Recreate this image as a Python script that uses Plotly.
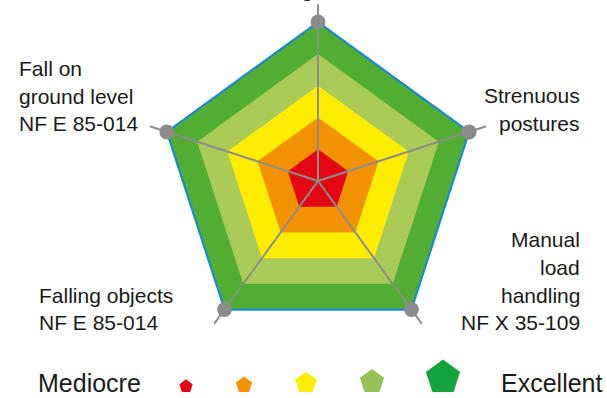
import plotly.graph_objects as go

# axes of the radar, clockwise from the top
categories = ["Walking surfaces", "Strenuous postures", "Manual load handling",
              "Falling objects", "Fall on ground level"]
levels = [5, 4, 3, 2, 1]
level_colors = ["#51AE32", "#AACB57", "#FFEC00", "#F39200", "#E30613"]
score = [5, 5, 5, 5, 5]
r_max = 5.57

# legend row
legend_colors = ["#E30613", "#F39200", "#FFED00", "#95C356", "#16A23A"]
legend_sizes = [14, 17, 22.5, 25.5, 36]
legend_x = [186, 244, 306, 372, 443]

W, H = 607, 398
cx, cy, rad = 318, 181, 177

fig = go.Figure()

# concentric bands, outer first
theta_loop = categories + categories[:1]
for lvl, col in zip(levels, level_colors):
    outer = lvl == max(levels)
    fig.add_trace(go.Scatterpolar(
        r=[lvl] * len(theta_loop),
        theta=theta_loop,
        mode="lines",
        fill="toself",
        fillcolor=col,
        line=dict(color="#1A8BD0" if outer else col, width=2.2 if outer else 0),
        hoverinfo="skip",
    ))

# spokes
for cat in categories:
    fig.add_trace(go.Scatterpolar(
        r=[0, r_max], theta=[cat, cat], mode="lines",
        line=dict(color="#8C8C8C", width=2), hoverinfo="skip",
    ))

# dots at the vertices
fig.add_trace(go.Scatterpolar(
    r=score, theta=categories, mode="markers",
    marker=dict(color="#8C8C8C", size=15),
))

# legend pentagons (bottom aligned)
fig.add_trace(go.Scatter(
    x=legend_x,
    y=[392 - 0.809 * s / 2 for s in legend_sizes],
    mode="markers",
    marker=dict(symbol="pentagon", size=legend_sizes, color=legend_colors,
                opacity=1, line=dict(width=0)),
    xaxis="x", yaxis="y", hoverinfo="skip",
))

fig.update_layout(
    width=W, height=H,
    margin=dict(l=0, r=0, t=0, b=0),
    paper_bgcolor="white",
    plot_bgcolor="rgba(0,0,0,0)",
    showlegend=False,
    font=dict(family="Liberation Sans, Arial, sans-serif", color="#1A1A1A"),
    polar=dict(
        domain=dict(x=[(cx - rad) / W, (cx + rad) / W],
                    y=[(H - cy - rad) / H, (H - cy + rad) / H]),
        bgcolor="rgba(0,0,0,0)",
        gridshape="linear",
        radialaxis=dict(range=[0, r_max], visible=False, showgrid=False),
        angularaxis=dict(direction="clockwise", rotation=90, showgrid=False,
                         showline=False, showticklabels=False, ticks=""),
    ),
    xaxis=dict(range=[0, W], visible=False, fixedrange=True, domain=[0, 1]),
    yaxis=dict(range=[H, 0], visible=False, fixedrange=True, domain=[0, 1]),
)

# top label sits above the page, only its descender peeks in
fig.add_annotation(x=cx / W, y=1 - 3 / H, xref="paper", yref="paper", text=categories[0],
                   showarrow=False, xanchor="center", yanchor="bottom", font=dict(size=21))

# other axis labels, one annotation per line
labels = [
    (["Fall on", "ground level", "NF E 85-014"], 17, [68, 96, 123], "left"),
    (["Strenuous", "postures"], 582, [95, 123], "right"),
    (["Manual", "load", "handling", "NF X 35-109"], 582, [239, 267, 295, 322], "right"),
    (["Falling objects", "NF E 85-014"], 37, [295, 322], "left"),
]
for lines, x, ys, anchor in labels:
    for txt, y in zip(lines, ys):
        fig.add_annotation(x=x, y=y, xref="x", yref="y", text=txt, showarrow=False,
                           xanchor=anchor, yanchor="middle", align=anchor,
                           font=dict(size=21))

fig.add_annotation(x=36, y=383, xref="x", yref="y", text="Mediocre", showarrow=False,
                   xanchor="left", yanchor="middle", font=dict(size=25))
fig.add_annotation(x=604, y=383, xref="x", yref="y", text="Excellent", showarrow=False,
                   xanchor="right", yanchor="middle", font=dict(size=25))

# page body has a default margin; drop it so the figure sits at the corner
fig.write_html("out.html", config={"displayModeBar": False},
               post_script="document.body.style.margin='0';")
